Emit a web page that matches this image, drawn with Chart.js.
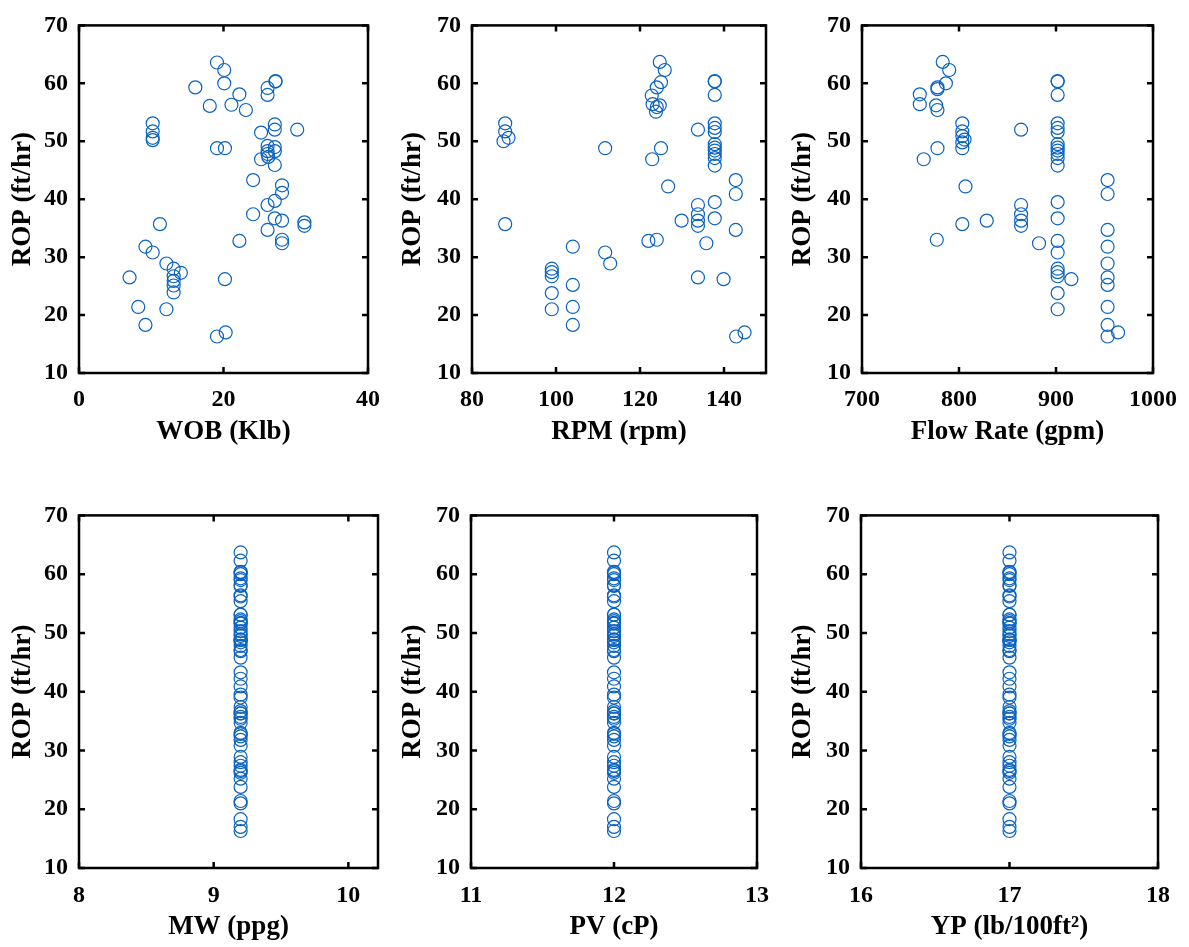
<!DOCTYPE html>
<html>
<head>
<meta charset="utf-8">
<script src="https://cdn.jsdelivr.net/npm/chart.js@4"></script>
<style>
  html, body { margin: 0; padding: 0; background: #fff; }
  body { width: 1189px; height: 947px; position: relative; overflow: hidden; }
  canvas { position: absolute; }
</style>
</head>
<body>
<canvas id="wob" width="392" height="470" style="left:0px;top:0px"></canvas>
<canvas id="rpm" width="390" height="470" style="left:392px;top:0px"></canvas>
<canvas id="flow" width="407" height="470" style="left:782px;top:0px"></canvas>
<canvas id="mw" width="392" height="457" style="left:0px;top:490px"></canvas>
<canvas id="pv" width="390" height="457" style="left:392px;top:490px"></canvas>
<canvas id="yp" width="407" height="457" style="left:782px;top:490px"></canvas>
<script>
// tick values
const ropTicks = [10, 20, 30, 40, 50, 60, 70];
const wobTicks = [0, 20, 40];
const rpmTicks = [80, 100, 120, 140];
const flowTicks = [700, 800, 900, 1000];
const mwTicks = [8, 9, 10];
const pvTicks = [11, 12, 13];
const ypTicks = [16, 17, 18];

// WOB (Klb) vs ROP (ft/hr)
const wobX = [19.1, 20.1, 16.1, 20.1, 22.2, 18.1, 21.1, 23.1, 26.1, 26.1,
              27.2, 27.2, 10.2, 10.2, 10.2, 10.2, 19.1, 20.2, 25.2, 27.1,
              27.1, 30.2, 26.1, 27.1, 26.1, 27.1, 26.2, 25.2, 27.1, 26.1,
              24.1, 28.1, 28.1, 26.1, 27.1, 24.1, 27.1, 28.1, 31.2, 31.2,
              26.1, 11.2, 22.2, 28.1, 28.1, 9.2, 10.2, 12.1, 13.1, 14.1,
              13.1, 13.1, 13.1, 13.1, 7.0, 20.2, 8.2, 12.1, 9.2, 19.1,
              20.3];
const wobY = [63.6, 62.3, 59.3, 60.0, 58.1, 56.1, 56.3, 55.4, 59.2, 58.0,
              60.4, 60.3, 53.1, 51.7, 50.6, 50.2, 48.8, 48.8, 51.5, 52.9,
              52.0, 52.0, 49.2, 49.0, 48.3, 48.3, 47.3, 46.9, 45.9, 47.8,
              43.3, 42.4, 41.1, 39.0, 39.7, 37.4, 36.7, 36.3, 36.0, 35.4,
              34.7, 35.7, 32.8, 33.0, 32.4, 31.8, 30.8, 28.9, 28.0, 27.3,
              26.7, 25.9, 25.1, 23.9, 26.5, 26.2, 21.4, 21.0, 18.3, 16.3,
              17.0];

// RPM (rpm) vs ROP
const rpmX = [124.7, 125.9, 125.0, 124.0, 122.8, 123.0, 124.0, 124.7, 123.8, 137.8,
              137.8, 137.8, 137.8, 137.8, 137.8, 133.8, 137.8, 137.8, 137.8, 137.8,
              137.8, 137.8, 87.9, 87.9, 88.7, 87.5, 111.7, 125.0, 122.9, 126.7,
              142.8, 142.8, 137.8, 133.8, 133.8, 133.8, 133.8, 129.9, 137.8, 142.8,
              87.9, 122.0, 124.0, 135.8, 104.0, 111.7, 112.9, 99.0, 99.0, 99.0,
              99.0, 104.0, 133.8, 139.9, 99.0, 104.0, 104.0, 142.9, 144.9];
const rpmY = [63.7, 62.3, 60.2, 59.3, 57.9, 56.4, 55.9, 56.2, 55.1, 60.4,
              60.3, 58.0, 53.1, 52.3, 51.6, 52.0, 49.5, 48.9, 48.4, 47.8,
              47.1, 45.8, 53.1, 51.7, 50.6, 50.0, 48.8, 48.8, 46.9, 42.2,
              43.3, 40.9, 39.5, 39.0, 37.4, 36.3, 35.4, 36.3, 36.7, 34.7,
              35.7, 32.8, 33.0, 32.4, 31.8, 30.8, 28.9, 28.0, 27.4, 26.7,
              23.8, 25.2, 26.5, 26.2, 21.0, 21.4, 18.3, 16.3, 17.0];

// Flow Rate (gpm) vs ROP
const flowX = [783.2, 789.9, 786.5, 777.8, 777.8, 759.6, 759.6, 776.4, 777.8, 803.4,
               803.4, 803.4, 805.7, 803.4, 803.4, 864.0, 777.8, 763.6, 806.7, 864.0,
               864.0, 864.0, 864.0, 828.6, 803.4, 777.1, 882.5, 901.7, 901.7, 901.7,
               901.7, 901.7, 901.7, 901.7, 901.7, 901.7, 901.7, 901.7, 901.7, 901.7,
               901.7, 901.7, 901.7, 901.7, 901.7, 901.7, 901.7, 901.7, 915.8, 953.2,
               953.2, 953.2, 953.2, 953.2, 953.2, 953.2, 953.2, 953.2, 953.2, 964.0];
const flowY = [63.7, 62.3, 60.0, 59.3, 59.0, 58.1, 56.4, 56.2, 55.4, 53.1,
               51.7, 50.9, 50.3, 49.8, 48.8, 52.0, 48.8, 46.9, 42.2, 39.0,
               37.4, 36.3, 35.4, 36.3, 35.7, 33.0, 32.4, 60.4, 60.3, 58.0,
               53.1, 52.3, 51.6, 49.5, 48.9, 48.4, 47.8, 47.1, 45.8, 39.5,
               36.7, 32.8, 30.8, 28.0, 27.4, 26.7, 23.8, 21.0, 26.2, 43.3,
               40.9, 34.7, 31.8, 28.9, 26.5, 25.2, 21.4, 18.3, 16.3, 17.0];

// constant mud properties, plotted against every ROP sample
const ropAll = flowY;
const mwValue = 9.2;
const pvValue = 12;
const ypValue = 17;

const blue = '#0a62c2';
const serif = 'Liberation Serif, Times New Roman, serif';

// draws the box and the inward ticks on all four sides
const frameTicks = {
  id: 'frameTicks',
  afterDraw(chart) {
    const { ctx, chartArea: a, scales: { x, y } } = chart;
    ctx.save();
    ctx.strokeStyle = '#000';
    ctx.lineWidth = 2.5;
    ctx.strokeRect(a.left, a.top, a.right - a.left, a.bottom - a.top);
    ctx.beginPath();
    x.ticks.forEach(t => {
      const px = x.getPixelForValue(t.value);
      ctx.moveTo(px, a.bottom); ctx.lineTo(px, a.bottom - 6);
      ctx.moveTo(px, a.top); ctx.lineTo(px, a.top + 6);
    });
    y.ticks.forEach(t => {
      const py = y.getPixelForValue(t.value);
      ctx.moveTo(a.left, py); ctx.lineTo(a.left + 6, py);
      ctx.moveTo(a.right, py); ctx.lineTo(a.right - 6, py);
    });
    ctx.stroke();
    ctx.restore();
  }
};

function makePanel(id, xLabel, xMin, xMax, xTicks, xs, ys, lay) {
  const pts = xs.map((v, i) => ({ x: v, y: ys[i] }));
  new Chart(document.getElementById(id), {
    type: 'scatter',
    data: {
      datasets: [{
        data: pts,
        pointStyle: 'circle',
        pointRadius: 6.5,
        pointBorderWidth: 1.2,
        pointBackgroundColor: 'rgba(0,0,0,0)',
        pointBorderColor: blue
      }]
    },
    options: {
      responsive: false,
      devicePixelRatio: 1,
      animation: false,
      layout: { padding: { top: lay.top, right: lay.right, left: 0, bottom: 0 } },
      plugins: { legend: { display: false }, tooltip: { enabled: false } },
      scales: {
        x: {
          type: 'linear', min: xMin, max: xMax,
          afterBuildTicks: s => { s.ticks = xTicks.map(v => ({ value: v })); },
          afterFit: s => { s.height = lay.xh; },
          grid: { display: false, drawTicks: false },
          border: { display: false },
          ticks: { color: '#000', padding: lay.xtp, maxRotation: 0,
                   font: { family: serif, size: 24, weight: 'bold' },
                   callback: v => String(v) },
          title: { display: true, text: xLabel, color: '#000',
                   padding: { top: 0, bottom: lay.xtt },
                   font: { family: serif, size: 27, weight: 'bold' } }
        },
        y: {
          type: 'linear', min: 10, max: 70,
          afterBuildTicks: s => { s.ticks = ropTicks.map(v => ({ value: v })); },
          afterFit: s => { s.width = lay.yw; },
          grid: { display: false, drawTicks: false },
          border: { display: false },
          ticks: { color: '#000', padding: 11,
                   font: { family: serif, size: 24, weight: 'bold' },
                   callback: v => String(v) },
          title: { display: true, text: 'ROP (ft/hr)', color: '#000',
                   padding: { top: lay.ytt, bottom: 0 },
                   font: { family: serif, size: 27, weight: 'bold' } }
        }
      }
    },
    plugins: [frameTicks]
  });
}

const topRow = { top: 17, xh: 97, xtp: 12, xtt: 22 };
const botRow = { top: 21, xh: 79, xtp: 13, xtt: 4 };

makePanel('wob', 'WOB (Klb)', 0, 40, wobTicks, wobX, wobY,
  Object.assign({ yw: 79, right: 16, ytt: 7 }, topRow));
makePanel('rpm', 'RPM (rpm)', 80, 150, rpmTicks, rpmX, rpmY,
  Object.assign({ yw: 80, right: 16, ytt: 5 }, topRow));
makePanel('flow', 'Flow Rate (gpm)', 700, 1000, flowTicks, flowX, flowY,
  Object.assign({ yw: 80, right: 32, ytt: 5 }, topRow));
makePanel('mw', 'MW (ppg)', 8, 10.22, mwTicks, ropAll.map(() => mwValue), ropAll,
  Object.assign({ yw: 79, right: 14, ytt: 7 }, botRow));
makePanel('pv', 'PV (cP)', 11, 13, pvTicks, ropAll.map(() => pvValue), ropAll,
  Object.assign({ yw: 79, right: 14, ytt: 5 }, botRow));
makePanel('yp', 'YP (lb/100ft²)', 16, 18, ypTicks, ropAll.map(() => ypValue), ropAll,
  Object.assign({ yw: 79, right: 31, ytt: 5 }, botRow));
</script>
</body>
</html>
